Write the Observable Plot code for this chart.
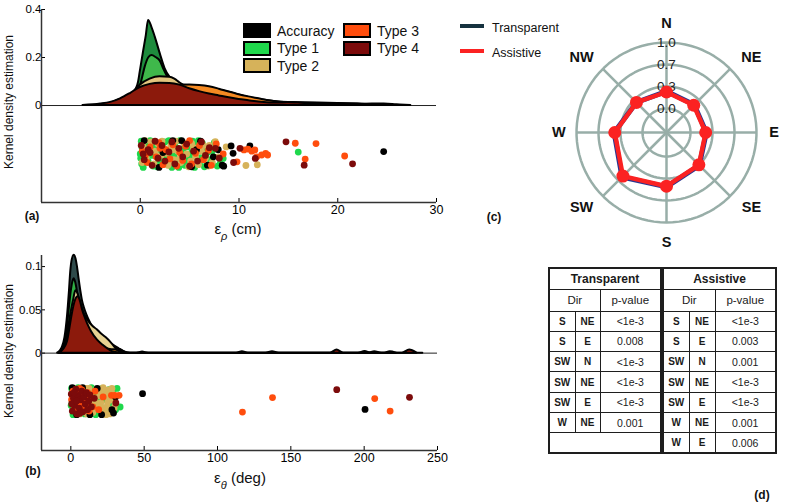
<!DOCTYPE html>
<html><head><meta charset="utf-8">
<script src="https://cdn.jsdelivr.net/npm/d3@7"></script>
<script src="https://cdn.jsdelivr.net/npm/@observablehq/plot@0.6"></script>
<style>
body{margin:0;background:#fff;}
#root{position:relative;width:794px;height:504px;overflow:hidden;background:#fff;font-family:"Liberation Sans",Arial,Helvetica,sans-serif;color:#111;}
.abs{position:absolute;white-space:nowrap;}
.rot{transform:translate(-50%,-50%) rotate(-90deg);font-size:12px;}
.ctr{transform:translate(-50%,-50%);}
.tag{font-weight:bold;font-size:12px;}
.xlab{font-size:15px;}
.xlab sub{font-size:11px;font-style:italic;vertical-align:-6px;}
.tbl{position:absolute;border-collapse:collapse;table-layout:fixed;border:2px solid #1e1e1e;font-family:"Liberation Sans",Arial,sans-serif;color:#1a1a1a;}
.tbl td{border:1.5px solid #1e1e1e;text-align:center;padding:0;font-size:10.5px;}
.tbl td.h{font-weight:bold;font-size:12px;}
.tbl td.s{font-size:11.5px;}
.tbl td.d{font-weight:bold;font-size:10px;}
.leg{position:absolute;display:flex;align-items:center;font-size:14px;}
.leg i{display:inline-block;width:24px;height:11px;border:2px solid #000;margin-right:6px;}
svg [aria-label^="y-axis"]{font-size:11.5px;}
</style></head><body><div id="root"></div>
<script>
// ---------- shared categories ----------
const seriesNames = ["Accuracy", "Type 1", "Type 2", "Type 3", "Type 4"];
const seriesColors = ["#000000", "#1fd84c", "#d6b25a", "#ff4d0d", "#7c0b0b"];

// ---------- panel (a): epsilon_rho (cm) ----------
const rhoTicks = [0, 10, 20, 30];
const rhoYTicks = [0, 0.2, 0.4];
// kernel density curves [epsilon_rho, density]
const rhoKdeAccuracy = [[-1.2,0],[-0.8,0.025],[-0.5,0.06],[-0.17,0.097],[0,0.14],[0.34,0.225],[0.61,0.29],[0.84,0.354],[1.18,0.326],[1.52,0.285],[2.03,0.215],[2.5,0.155],[3.0,0.118],[3.5,0.098],[4.0,0.088],[5,0.082],[6,0.079],[7,0.074],[8,0.065],[9,0.055],[10,0.044],[11,0.034],[12,0.026],[13,0.02],[14,0.015],[16,0.011],[18,0.008],[20,0.006],[22,0.005],[23.5,0.006],[24.7,0.006],[26,0.003],[27.4,0]];
const rhoKdeType1 = [[-1,0],[-0.5,0.02],[0,0.075],[0.17,0.104],[0.5,0.16],[0.85,0.198],[1.18,0.208],[1.6,0.2],[2.03,0.185],[2.4,0.15],[2.7,0.125],[3.2,0.097],[3.6,0.08],[4,0.065],[5,0.042],[6,0.027],[7,0.017],[8,0.011],[9,0.007],[10,0.005],[12,0.004],[14,0.004],[16,0.006],[17.5,0.003],[19,0]];
const rhoKdeType2 = [[-3,0],[-2,0.01],[-1,0.04],[0,0.085],[1,0.11],[2,0.12],[3,0.118],[3.5,0.11],[4,0.095],[5,0.07],[6,0.05],[7,0.035],[8,0.025],[9,0.018],[10,0.014],[11,0.012],[12,0.01],[13,0.005],[14,0]];
const rhoKdeType3 = [[-4.5,0],[-3,0.01],[-2,0.025],[-1,0.04],[0,0.055],[1,0.07],[2,0.078],[3,0.082],[4,0.084],[5,0.085],[6,0.083],[7,0.078],[8,0.068],[9,0.056],[10,0.045],[11,0.036],[12,0.028],[13,0.02],[14,0.015],[16,0.012],[18,0.01],[20,0.008],[22,0.006],[24,0.003],[25,0]];
const rhoKdeType4 = [[-5.8,0],[-4,0.006],[-3,0.013],[-2,0.028],[-1,0.05],[0,0.075],[1,0.088],[2,0.093],[3,0.092],[4,0.085],[5,0.07],[6,0.058],[7,0.048],[8,0.04],[9,0.032],[10,0.025],[11,0.02],[12,0.015],[14,0.01],[15,0.012],[16,0.01],[18,0.006],[20,0.006],[22,0.005],[23,0]];
// samples [epsilon_rho, vertical jitter -1..1]
const rhoPtsAccuracy = [[0.4,0.95],[1.9,-0.95],[3.3,0.95],[4.2,0.95],[5.2,-0.9],[6.1,0.9],[6.8,-0.79],[7.9,0.3],[8.3,-0.79],[8.45,-0.86],[9.2,0.57],[9.4,0.05],[11.1,0.57],[24.65,0.17],[2.3,0.1],[5.7,0.3],[7.4,-0.2]];
const rhoPtsType1 = [[0.1,0.9],[0.3,-0.95],[0.5,0.2],[0.8,-0.5],[1.0,0.95],[1.2,-0.1],[1.5,0.6],[1.7,-0.9],[2.0,0.35],[2.2,-0.65],[2.5,0.85],[2.7,-0.3],[3.0,0.05],[3.2,-0.95],[3.5,0.7],[3.7,-0.55],[4.0,0.95],[4.2,0.15],[4.5,-0.8],[4.8,0.5],[5.0,-0.2],[5.3,0.9],[5.5,-0.95],[5.8,0.3],[6.0,-0.6],[6.3,0.75],[6.5,-0.9],[6.8,0.1],[7.1,-0.4],[0.05,-0.3],[0.2,0.4],[0.6,0.75],[1.3,-0.85],[2.9,0.95],[3.9,-0.95],[5.6,0.6],[8.1,-0.67],[8.4,-0.31],[16.0,0.14],[7.5,0.8],[0.0,0.0],[0.15,-0.7],[0.7,0.0],[1.6,0.25],[2.4,-0.2],[3.4,-0.1],[4.4,0.4],[5.2,0.1],[6.1,-0.25],[6.6,0.45],[7.3,0.2],[7.8,-0.85],[3.6,-0.75],[1.9,-0.45],[0.4,-0.55],[5.9,0.95],[4.6,-0.45]];
const rhoPtsType2 = [[0.3,0.5],[0.6,-0.3],[0.9,0.1],[1.4,-0.7],[1.8,0.7],[2.1,-0.1],[2.4,0.4],[2.8,-0.8],[3.1,0.6],[3.4,-0.4],[3.8,0.2],[4.1,-0.6],[4.4,0.8],[4.7,0.0],[5.1,-0.5],[5.4,0.45],[5.9,-0.75],[6.2,0.2],[6.6,-0.3],[7.0,0.6],[7.3,-0.6],[7.6,0.88],[0.2,-0.6],[1.1,0.85],[2.6,0.05],[3.6,0.9],[4.9,-0.9],[10.7,-0.81],[11.85,-0.76],[0.5,0.95],[1.5,0.2],[2.2,0.9],[3.0,-0.6],[4.0,-0.3],[5.6,-0.2],[6.4,0.6],[6.9,-0.85],[7.9,-0.2],[8.7,0.5],[3.3,0.3],[5.2,0.75]];
const rhoPtsType3 = [[0.2,0.2],[0.7,-0.6],[1.0,0.5],[1.6,-0.2],[1.9,0.8],[2.3,-0.75],[2.6,0.3],[3.0,-0.35],[3.3,0.65],[3.7,-0.85],[4.0,0.1],[4.3,-0.45],[4.6,0.55],[5.0,0.95],[5.2,-0.7],[5.6,0.05],[6.0,0.6],[6.4,-0.4],[6.9,0.25],[7.2,-0.8],[7.7,0.71],[8.4,0.0],[9.8,-0.55],[10.5,0.29],[10.9,0.35],[11.3,0.2],[11.6,0.29],[11.8,-0.2],[12.3,-0.07],[12.7,0.05],[12.9,-0.07],[15.7,0.76],[16.7,-0.36],[17.8,0.74],[20.7,-0.14],[0.5,-0.1],[2.0,0.4]];
const rhoPtsType4 = [[0.1,0.6],[0.4,-0.4],[0.8,0.3],[1.2,-0.8],[1.5,0.9],[1.8,-0.3],[2.2,0.6],[2.5,-0.5],[2.9,0.15],[3.2,0.85],[3.5,-0.7],[3.9,0.4],[4.3,-0.2],[4.7,0.7],[5.0,-0.85],[5.4,0.2],[5.8,-0.5],[6.2,0.85],[6.6,-0.1],[7.0,0.45],[7.6,0.4],[8.0,-0.3],[9.45,-0.6],[10.1,0.4],[11.65,-0.31],[14.76,0.86],[16.6,-0.79],[21.5,-0.69],[0.3,0.0],[1.0,0.1]];

// ---------- panel (b): epsilon_theta (deg) ----------
const thetaTicks = [0, 50, 100, 150, 200, 250];
const thetaYTicks = [0, 0.05, 0.1];
const thetaKdeAccuracy = [[-9,0],[-7,0.003],[-5.7,0.007],[-4,0.018],[-2.3,0.042],[-1,0.07],[0,0.095],[1,0.108],[2.3,0.113],[3.5,0.109],[4.5,0.1],[5.6,0.086],[6.8,0.072],[8,0.06],[9.1,0.053],[11,0.044],[12.5,0.038],[15,0.03],[17,0.025],[20,0.02],[22.7,0.017],[25,0.014],[27.3,0.011],[30,0.008],[33,0.005],[36,0.002],[39,0],[45,0],[48.9,0.0012],[53,0],[196,0],[200.6,0.0018],[205,0],[240,0]];
const thetaKdeType1 = [[-8,0],[-5,0.006],[-3,0.02],[-1,0.052],[0.5,0.074],[1.5,0.083],[2.3,0.086],[3.4,0.081],[5,0.066],[7,0.048],[9,0.036],[12,0.026],[15,0.02],[18,0.016],[21,0.013],[24,0.01],[27,0.008],[30,0.006],[33.6,0.004],[37,0.001],[40,0]];
const thetaKdeType2 = [[-7,0],[-4,0.008],[-2,0.024],[0,0.045],[2,0.062],[3.4,0.072],[5,0.068],[7,0.056],[9,0.046],[12,0.037],[15,0.031],[18,0.027],[20.4,0.023],[24,0.018],[27,0.013],[29,0.009],[31,0.005],[33,0.004],[35,0.001],[37,0]];
const thetaKdeType3 = [[-7,0],[-4,0.006],[-2,0.018],[0,0.036],[2,0.048],[4,0.052],[6,0.047],[8,0.038],[10,0.029],[13,0.02],[16,0.013],[20,0.008],[24,0.005],[28,0.004],[30,0.004],[33,0.002],[36,0],[113,0],[117,0.0015],[121,0],[133,0],[137.5,0.0015],[142,0],[203,0],[207.2,0.0015],[212,0],[214,0],[217.7,0.0015],[222,0]];
const thetaKdeType4 = [[-8,0],[-5,0.004],[-2.3,0.013],[0,0.035],[1.1,0.046],[3,0.06],[5,0.065],[6.5,0.06],[8,0.05],[10,0.04],[11.4,0.034],[14,0.025],[18.2,0.015],[22,0.009],[27,0.003],[30,0.001],[33,0],[177,0],[181.5,0.0035],[186,0],[226,0],[231,0.0035],[236,0]];
const thetaPtsAccuracy = [[1,0.95],[4,-0.95],[8,0.95],[13,-0.95],[18,0.9],[21,-0.95],[29.1,-0.84],[28,-0.6],[30.5,0.3],[48.9,0.53],[200.6,-0.58]];
const thetaPtsType1 = [[0.5,0.9],[1.5,-0.95],[2.5,0.3],[4,-0.6],[5,0.95],[6.5,-0.2],[8,0.6],[9.5,-0.9],[11,0.4],[12.5,-0.5],[14,0.95],[15.5,0.1],[17,-0.95],[18.5,0.6],[20,-0.3],[21.5,0.9],[23,-0.8],[24.5,0.2],[26,0.81],[27.5,-0.1],[29,0.8],[30.5,-0.6],[33.6,-0.41],[0.2,-0.3],[3,0.6],[7,-0.8],[16,0.45],[22,0.1],[1,0.0],[3.5,-0.4],[6,0.3],[9,-0.1],[12,0.7],[14.5,-0.7],[19,0.1],[25,-0.5],[28,0.5],[31.5,0.9],[10,-0.5]];
const thetaPtsType2 = [[1,0.4],[3,-0.2],[5,0.7],[7,-0.6],[9,0.2],[10.5,0.9],[12,-0.3],[13.5,0.5],[15,-0.8],[16.5,0.2],[17.5,0.85],[18.5,-0.5],[19.5,0.4],[20.5,-0.1],[21.5,0.7],[22.5,-0.75],[23.5,0.3],[24.5,-0.4],[25.5,0.8],[26.5,-0.9],[27.5,0.1],[28.5,0.5],[29.5,-0.5],[14,0.0],[18,-0.2],[22,0.95],[24,-0.95],[11,-0.9],[2,0.9],[6,-0.9],[8,0.55],[12.5,0.9],[16,-0.5],[19,0.7],[21,-0.45],[23,0.6],[25,-0.1],[26,0.45],[27,-0.6],[28,0.9],[30.2,-0.2]];
const thetaPtsType3 = [[0.5,0.1],[1.5,0.7],[2.5,-0.5],[3.5,0.3],[4.5,-0.85],[5.5,0.5],[6.5,-0.3],[7.5,0.8],[8.5,-0.6],[9.5,0.1],[10.5,-0.2],[11.5,0.6],[12.5,-0.7],[13.5,0.25],[15,-0.4],[16.5,0.7],[19,-0.6],[22,0.3],[27.7,0.41],[30,0.41],[32.9,0.41],[117,-0.77],[137.5,0.25],[207.2,0.18],[217.7,-0.7],[2,-0.1],[6,0.9]];
const thetaPtsType4 = [[0.3,0.5],[1,-0.7],[1.8,0.2],[2.6,-0.3],[3.4,0.85],[4.2,-0.9],[5,0.4],[5.8,-0.5],[6.6,0.1],[7.4,0.7],[8.2,-0.75],[9,0.3],[9.8,-0.2],[10.6,0.6],[11.4,-0.6],[12.2,0.0],[13,0.45],[14,-0.4],[16,0.2],[0.6,-0.2],[2.2,0.6],[3.8,0.0],[6.2,-0.85],[30.7,-0.13],[181.3,0.81],[230.9,0.27]];

// ---------- panel (c): direction radar ----------
const directions = ["N", "NE", "E", "SE", "S", "SW", "W", "NW"];
const transparentVals = [0.26, 0.23, 0.24, 0.34, 0.46, 0.59, 0.43, 0.28];
const assistiveVals   = [0.25, 0.22, 0.23, 0.33, 0.45, 0.57, 0.42, 0.28];
const ringLevels = [0, 1/3, 2/3, 1];
const ringLabels = ["0.0", "0.3", "0.7", "1.0"];

// ---------- panel (d): significant pairs ----------
const transparentPairs = [["S","NE","<1e-3"],["S","E","0.008"],["SW","N","<1e-3"],["SW","NE","<1e-3"],["SW","E","<1e-3"],["W","NE","0.001"]];
const assistivePairs = [["S","NE","<1e-3"],["S","E","0.003"],["SW","N","0.001"],["SW","NE","<1e-3"],["SW","E","<1e-3"],["W","NE","0.001"],["W","E","0.006"]];

// ================= drawing =================
const FONT = "'Liberation Sans', Arial, Helvetica, sans-serif";
const root = document.getElementById("root");
function put(el, left, top) { el.style.position = "absolute"; el.style.left = left + "px"; el.style.top = top + "px"; root.appendChild(el); return el; }
function html(cls, content, left, top) { const d = document.createElement("div"); d.className = "abs " + cls; d.innerHTML = content; return put(d, left, top); }
const tickFmt = d => d === 0 ? "0" : d3.format("~g")(d);

const areaFillsA = ["#1e8b3d", "#3fb84b", "#e3c57e", "#f58a22", "#8c1a0c"];
const areaFillsB = ["#2e4a4a", "#2fae45", "#e8d292", "#f58a22", "#8c1a0c"];
const dotOrder = [1, 2, 0, 3, 4];

function densityPanel({kdes, pts, fills, xDomain, yDomain, band}) {
  const marks = [Plot.ruleY([0], {stroke: "#222", strokeWidth: 1})];
  kdes.forEach((k, i) => marks.push(Plot.areaY(k, {x: d => d[0], y: d => d[1], fill: fills[i], stroke: "#000", strokeWidth: 2, strokeLinejoin: "round", curve: "monotone-x"})));
  dotOrder.forEach(i => marks.push(Plot.dot(pts[i], {x: d => d[0], y: d => band.c + band.h * d[1], r: 3.4, fill: seriesColors[i], stroke: "none"})));
  marks.push(Plot.ruleX([xDomain[0]], {stroke: "#333", strokeWidth: 1.5}));
  marks.push(Plot.ruleY([yDomain[0]], {stroke: "#333", strokeWidth: 1.5}));
  return marks;
}

const plotA = Plot.plot({
  width: 450, height: 232, marginLeft: 41, marginRight: 14, marginTop: 9, marginBottom: 30,
  x: {domain: [-10, 30], ticks: rhoTicks, tickSize: -4, tickPadding: 7, label: null},
  y: {domain: [-0.404, 0.4], ticks: rhoYTicks, tickSize: -4, tickPadding: 4, tickFormat: tickFmt, label: null},
  style: {fontFamily: FONT, fontSize: "12.5px", color: "#000", background: "transparent", overflow: "visible"},
  marks: densityPanel({kdes: [rhoKdeAccuracy, rhoKdeType1, rhoKdeType2, rhoKdeType3, rhoKdeType4],
    pts: [rhoPtsAccuracy, rhoPtsType1, rhoPtsType2, rhoPtsType3, rhoPtsType4], fills: areaFillsA,
    xDomain: [-10, 30], yDomain: [-0.404, 0.4], band: {c: -0.202, h: 0.059}})
});
put(plotA, 0, 0);

const plotB = Plot.plot({
  width: 450, height: 230, marginLeft: 41, marginRight: 13, marginTop: 10, marginBottom: 25,
  x: {domain: [-20, 250], ticks: thetaTicks, tickSize: -4, tickPadding: 7, label: null},
  y: {domain: [-0.1125, 0.1128], ticks: thetaYTicks, tickSize: -4, tickPadding: 4, tickFormat: tickFmt, label: null},
  style: {fontFamily: FONT, fontSize: "12.5px", color: "#000", background: "transparent", overflow: "visible"},
  marks: densityPanel({kdes: [thetaKdeAccuracy, thetaKdeType1, thetaKdeType2, thetaKdeType3, thetaKdeType4],
    pts: [thetaPtsAccuracy, thetaPtsType1, thetaPtsType2, thetaPtsType3, thetaPtsType4], fills: areaFillsB,
    xDomain: [-20, 250], yDomain: [-0.1125, 0.1128], band: {c: -0.0555, h: 0.0164}})
});
put(plotB, 0, 245);

// axis titles, panel tags
html("rot", "Kernel density estimation", 8.5, 102);
html("rot", "Kernel density estimation", 8.5, 351);
html("xlab ctr", "&epsilon;<sub>&rho;</sub> (cm)", 238, 231);
html("xlab ctr", "&epsilon;<sub>&theta;</sub> (deg)", 240, 480);
html("tag ctr", "(a)", 32, 216);
html("tag ctr", "(b)", 33, 471);
html("tag ctr", "(c)", 494, 217);
html("tag ctr", "(d)", 762, 495);

// legend for (a)/(b)
const legPos = [[243, 22.5], [243, 40], [243, 57.5], [343, 22.5], [343, 40]];
seriesNames.forEach((s, i) => {
  const d = document.createElement("div"); d.className = "leg";
  d.innerHTML = `<i style="background:${seriesColors[i]}"></i><span>${s}</span>`;
  put(d, legPos[i][0], legPos[i][1]);
});

// ---------- radar (c) ----------
const R0 = 24 / 66;
const rad = d => d * Math.PI / 180;
const ringPts = ringLevels.flatMap(v => d3.range(0, 361, 4).map(a => ({v, a})));
const radarRows = vals => directions.concat([directions[0]]).map((d, i) => ({dir: d, v: vals[i % directions.length], a: (i % directions.length) * 45}));
const px = d => (d.v + R0) * Math.sin(rad(d.a));
const py = d => (d.v + R0) * Math.cos(rad(d.a));
const diag = i => i % 2 === 1;
const plotC = Plot.plot({
  width: 258, height: 264, margin: 0,
  x: {domain: [-130 / 66, 128 / 66], axis: null},
  y: {domain: [-132 / 66, 132 / 66], axis: null},
  style: {fontFamily: FONT, background: "transparent", overflow: "visible"},
  marks: [
    Plot.line(ringPts, {x: px, y: py, z: "v", stroke: "#98aea8", strokeWidth: 2.5}),
    Plot.link(directions, {x1: 0, y1: 0, x2: (d, i) => (1 + R0) * Math.sin(rad(i * 45)), y2: (d, i) => (1 + R0) * Math.cos(rad(i * 45)), stroke: "#98aea8", strokeWidth: 2.5}),
    Plot.text(directions, {x: (d, i) => (diag(i) ? 1.82 : 1.63) * Math.sin(rad(i * 45)), y: (d, i) => (diag(i) ? 1.6 : 1.66) * Math.cos(rad(i * 45)), text: d => d, fontWeight: "bold", fontSize: 14.5, fill: "#111"}),
    Plot.text(ringLevels, {x: 0, y: d => d + R0, text: (d, i) => ringLabels[i], fontSize: 13.5, fill: "#222"}),
    Plot.line(radarRows(transparentVals), {x: px, y: py, stroke: "#2a3590", strokeWidth: 5, strokeLinejoin: "round"}),
    Plot.line(radarRows(assistiveVals), {x: px, y: py, stroke: "#fb2222", strokeWidth: 4.5, strokeLinejoin: "round"}),
    Plot.dot(radarRows(assistiveVals).slice(0, 8), {x: px, y: py, r: 6.5, fill: "#fb2222", stroke: "none"})
  ]
});
put(plotC, 536, 0);

// radar legend
[["Transparent", "#16323f", 26], ["Assistive", "#fb2222", 51]].forEach(([t, c, y]) => {
  const l = document.createElement("div"); l.style.cssText = `width:24px;height:4px;background:${c};`; put(l, 460, y - 2);
  html("", `<span style="font-size:12.5px">${t}</span>`, 492, y - 8);
});

// ---------- table (d) ----------
function makeTable(title, rows, total, widths) {
  const t = document.createElement("table"); t.className = "tbl";
  let h = `<colgroup>${widths.map(w => `<col style="width:${w}px">`).join("")}</colgroup>`;
  h += `<tr style="height:21px"><td class="h" colspan="3">${title}</td></tr>`;
  h += `<tr style="height:22px"><td class="s" colspan="2">Dir</td><td class="s">p-value</td></tr>`;
  for (let i = 0; i < total; i++) {
    const r = rows[i];
    h += r ? `<tr style="height:20.3px"><td class="d">${r[0]}</td><td class="d">${r[1]}</td><td>${r[2].replace("<", "&lt;")}</td></tr>`
           : `<tr style="height:20.3px"><td colspan="3"></td></tr>`;
  }
  t.innerHTML = h;
  t.style.width = d3.sum(widths) + "px";
  return t;
}
const nRows = Math.max(transparentPairs.length, assistivePairs.length);
put(makeTable("Transparent", transparentPairs, nRows, [26, 25, 61]), 548, 267);
put(makeTable("Assistive", assistivePairs, nRows, [26, 26, 61]), 662, 267);
</script></body></html>
